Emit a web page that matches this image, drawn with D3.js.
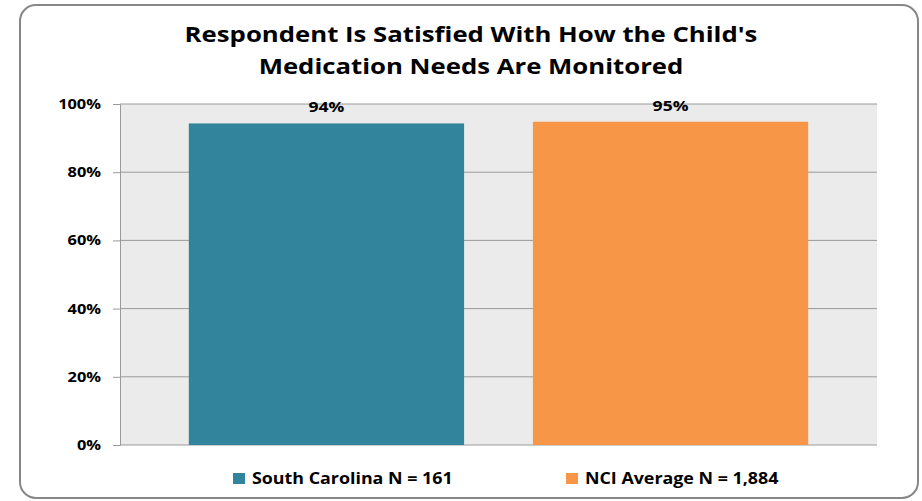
<!DOCTYPE html>
<html><head><meta charset="utf-8">
<script src="https://cdn.jsdelivr.net/npm/d3@7"></script>
<style>body{margin:0;background:#fff;} svg{display:block;} text{font-family:"Open Sans",sans-serif;font-weight:bold;fill:#000;}</style>
</head><body>
<svg id="c" width="922" height="501"></svg>
<script>
const titleLines = ["Respondent Is Satisfied With How the Child's", "Medication Needs Are Monitored"];
const series = ["South Carolina N = 161", "NCI Average N = 1,884"];
const values = [94.3, 94.8];
const valueLabels = ["94%", "95%"];
const colors = ["#31849B", "#F79646"];
const yTicks = [0, 20, 40, 60, 80, 100];

function widen(sel, f){
  f = f || 1.17;
  sel.each(function(){
    const w = this.getComputedTextLength();
    d3.select(this).attr("textLength", w*f).attr("lengthAdjust","spacingAndGlyphs");
  });
}

const svg = d3.select("#c");
const m = {left:120, right:877, top:104, bottom:445};

svg.append("rect").attr("x",20).attr("y",5).attr("width",898).attr("height",493)
  .attr("rx",16).attr("fill","#fff").attr("stroke","#878787").attr("stroke-width",2);

const x = d3.scaleBand().domain(series).range([m.left, m.right]).padding(0.2);
const y = d3.scaleLinear().domain([0,100]).range([m.bottom, m.top]);

svg.append("rect").attr("x",m.left).attr("y",m.top).attr("width",m.right-m.left).attr("height",m.bottom-m.top).attr("fill","#EBEBEB");

const ax = svg.append("g").attr("transform",`translate(${m.left},0)`)
  .call(d3.axisLeft(y).tickValues(yTicks).tickFormat(d=>d+"%").tickSize(7).tickPadding(12));
ax.select(".domain").attr("stroke","#9a9a9a");
ax.selectAll(".tick line").attr("stroke","#9a9a9a");
ax.selectAll(".tick text").attr("font-size",14).attr("font-family","Open Sans").attr("font-weight","bold").attr("fill","#000").call(widen);

svg.append("g").selectAll("line").data(yTicks).join("line")
  .attr("x1",m.left).attr("x2",m.right).attr("y1",d=>y(d)).attr("y2",d=>y(d))
  .attr("stroke","#9a9a9a").attr("stroke-width",1);

svg.append("g").selectAll("rect").data(series).join("rect")
  .attr("x",d=>x(d)).attr("width",x.bandwidth())
  .attr("y",(d,i)=>y(values[i])).attr("height",(d,i)=>m.bottom-y(values[i]))
  .attr("fill",(d,i)=>colors[i]);

svg.append("g").selectAll("text").data(series).join("text")
  .attr("x",d=>x(d)+x.bandwidth()/2).attr("y",(d,i)=>y(values[i])-11)
  .attr("text-anchor","middle").attr("font-size",15).text((d,i)=>valueLabels[i]).call(widen);

svg.append("g").selectAll("text").data(titleLines).join("text")
  .attr("x",471).attr("y",(d,i)=>42+i*31.5).attr("text-anchor","middle")
  .attr("font-size",22).text(d=>d).call(widen);

const legX = [233, 566];
const lg = svg.append("g").selectAll("g").data(series).join("g")
  .attr("transform",(d,i)=>`translate(${legX[i]},473)`);
lg.append("rect").attr("width",12).attr("height",11).attr("fill",(d,i)=>colors[i]);
lg.append("text").attr("x",19).attr("y",10.5).attr("font-size",16).text(d=>d).call(widen, 1.115);
</script>
</body></html>
